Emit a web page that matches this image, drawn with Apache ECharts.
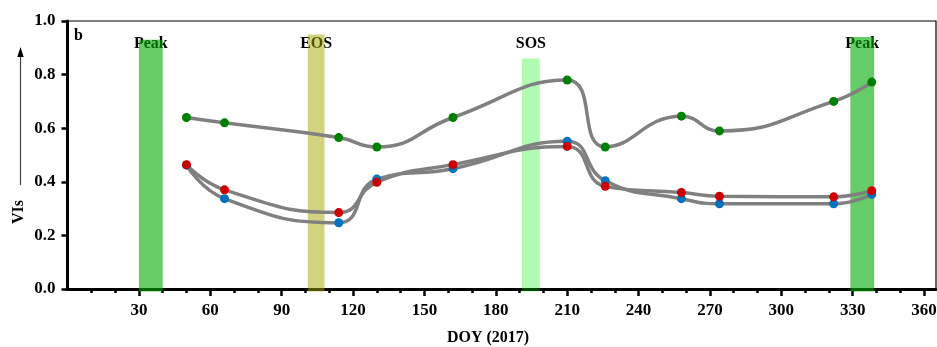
<!DOCTYPE html>
<html>
<head>
<meta charset="utf-8">
<script src="https://cdn.jsdelivr.net/npm/echarts@6/dist/echarts.min.js"></script>
<style>
  html, body { margin: 0; padding: 0; background: #fff; }
  #chart { width: 937px; height: 347px; }
</style>
</head>
<body>
<div id="chart"></div>
<script>
// Day of year of each composite
const doy = [50, 66, 114, 130, 162, 210, 226, 258, 274, 322, 338];
// Vegetation index series
const greenVI = [0.64, 0.62, 0.565, 0.53, 0.64, 0.78, 0.53, 0.645, 0.59, 0.70, 0.772];
const blueVI  = [0.462, 0.337, 0.247, 0.41, 0.449, 0.551, 0.404, 0.337, 0.318, 0.318, 0.353];
const redVI   = [0.464, 0.370, 0.285, 0.398, 0.464, 0.532, 0.383, 0.360, 0.346, 0.344, 0.367];
// Phenology phases (DOY span and band height)
const phaseNames = ['Peak', 'EOS', 'SOS', 'Peak'];
const phaseStart = [30, 101, 191, 329];
const phaseEnd   = [40, 108, 198.5, 339];
const phaseTop   = [0.93, 0.95, 0.86, 0.94];
// Axis ticks
const xTicks = [30, 60, 90, 120, 150, 180, 210, 240, 270, 300, 330, 360];
const xMinorTicks = [10, 20, 40, 50, 70, 80, 100, 110, 130, 140, 160, 170, 190, 200,
  220, 230, 250, 260, 280, 290, 310, 320, 340, 350];

const serif = "'Times New Roman', 'Liberation Serif', serif";
const phaseColors = {
  Peak: 'rgba(0,170,0,0.6)',
  EOS: 'rgba(168,168,0,0.5)',
  SOS: 'rgba(0,240,0,0.3)'
};
const pointColors = ['#008000', '#0072bd', '#cc0000'];
const lineGray = '#808080';

const chart = echarts.init(document.getElementById('chart'), null, { renderer: 'canvas' });

const seriesValues = [greenVI, blueVI, redVI];
const pairs = vals => doy.map((d, i) => [d, vals[i]]);

const lineSeries = seriesValues.map(vals => ({
  type: 'line',
  data: pairs(vals),
  smooth: 0.5,
  showSymbol: false,
  silent: true,
  z: 3,
  lineStyle: { color: lineGray, width: 3.5 }
}));

const pointSeries = seriesValues.map((vals, k) => ({
  type: 'scatter',
  data: pairs(vals),
  symbol: 'circle',
  symbolSize: 9,
  z: 4 + k,
  itemStyle: { color: pointColors[k], opacity: 1 }
}));

const phaseSeries = {
  type: 'custom',
  z: 2,
  silent: true,
  data: phaseStart.map((s, i) => [s, phaseEnd[i], phaseTop[i], i]),
  renderItem: (params, api) => {
    const topLeft = api.coord([api.value(0), api.value(2)]);
    const bottomRight = api.coord([api.value(1), 0]);
    const name = phaseNames[api.value(3)];
    return {
      type: 'group',
      children: [
        {
          type: 'text',
          style: {
            text: name,
            x: (topLeft[0] + bottomRight[0]) / 2,
            y: 44,
            align: 'center',
            verticalAlign: 'middle',
            font: 'bold 16px ' + serif,
            fill: '#000'
          }
        },
        {
          type: 'rect',
          shape: {
            x: topLeft[0],
            y: topLeft[1],
            width: bottomRight[0] - topLeft[0],
            height: bottomRight[1] - topLeft[1] + 2.5
          },
          style: { fill: phaseColors[name] }
        }
      ]
    };
  }
};

const tickLabel = {
  fontFamily: serif,
  fontWeight: 'bold',
  fontSize: 17,
  color: '#000'
};

const option = {
  animation: false,
  grid: {
    left: 67.5, top: 21, width: 868.5, height: 268,
    outerBoundsMode: 'none',
    containLabel: false,
    show: true, borderColor: '#000', borderWidth: 1.2, backgroundColor: 'transparent'
  },
  xAxis: [
    {
      type: 'value', min: 0, max: 365, position: 'bottom',
      axisLine: { show: true, onZero: false, lineStyle: { color: '#000', width: 3 } },
      axisTick: { show: true, customValues: xTicks, length: 7, lineStyle: { color: '#000', width: 2.5 } },
      axisLabel: Object.assign({ customValues: xTicks, margin: 13 }, tickLabel),
      splitLine: { show: false }
    },
    {
      type: 'value', min: 0, max: 365, position: 'bottom',
      axisLine: { show: false, onZero: false },
      axisTick: { show: true, customValues: xMinorTicks, length: 4, lineStyle: { color: '#000', width: 2.5 } },
      axisLabel: { show: false },
      splitLine: { show: false }
    }
  ],
  yAxis: {
    type: 'value', min: 0, max: 1, interval: 0.2,
    axisLine: { show: true, lineStyle: { color: '#000', width: 3 } },
    axisTick: { show: true, length: 6, lineStyle: { color: '#000', width: 2.5 } },
    axisLabel: Object.assign({ margin: 12, formatter: v => v.toFixed(1) }, tickLabel),
    splitLine: { show: false }
  },
  graphic: [
    {
      type: 'text', left: 74, top: 28, z: 10,
      style: { text: 'b', font: 'bold 16px ' + serif, fill: '#000' }
    },
    {
      type: 'text', x: 488, y: 338, z: 10,
      style: { text: 'DOY (2017)', font: 'bold 16px ' + serif, fill: '#000', align: 'center', verticalAlign: 'middle' }
    },
    {
      type: 'text', x: 19, y: 212, rotation: Math.PI / 2, z: 10,
      style: { text: 'VIs', font: 'bold 16px ' + serif, fill: '#000', align: 'center', verticalAlign: 'middle' }
    },
    {
      type: 'line', z: 10,
      shape: { x1: 20.5, y1: 185, x2: 20.5, y2: 55 },
      style: { stroke: '#444', lineWidth: 1.2 }
    },
    {
      type: 'polygon', z: 10,
      shape: { points: [[20.5, 47], [17.3, 57], [23.7, 57]] },
      style: { fill: '#000' }
    }
  ],
  series: [phaseSeries].concat(lineSeries, pointSeries)
};

chart.setOption(option);
</script>
</body>
</html>
